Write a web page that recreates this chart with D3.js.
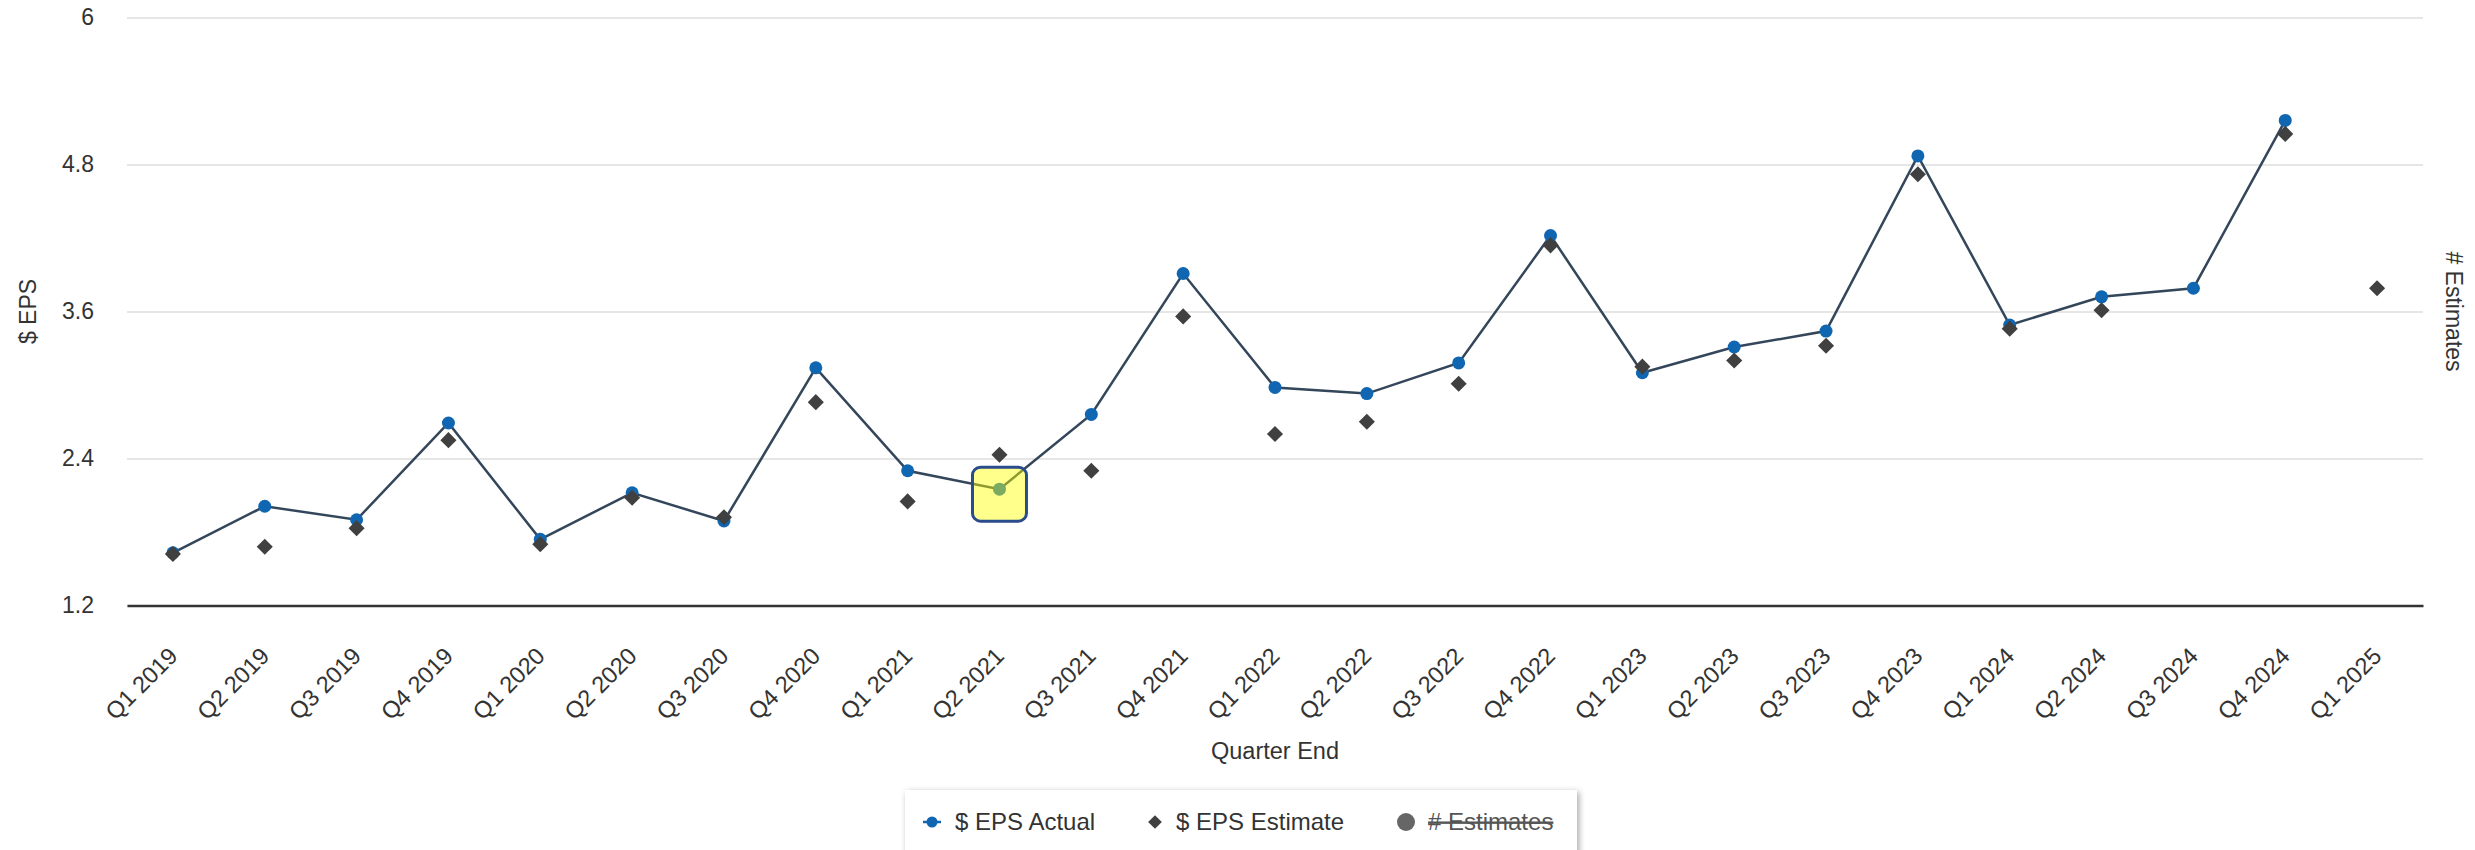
<!DOCTYPE html>
<html>
<head>
<meta charset="utf-8">
<script src="https://cdn.jsdelivr.net/npm/d3@7/dist/d3.min.js"></script>
<style>
  html, body { margin: 0; padding: 0; background: #fff; }
  svg { display: block; font-family: "Liberation Sans", Arial, sans-serif; }
</style>
</head>
<body>
<svg id="chart" width="2475" height="850"></svg>
<script>
// ---- data ----
const categories = ["Q1 2019","Q2 2019","Q3 2019","Q4 2019","Q1 2020","Q2 2020","Q3 2020","Q4 2020",
  "Q1 2021","Q2 2021","Q3 2021","Q4 2021","Q1 2022","Q2 2022","Q3 2022","Q4 2022",
  "Q1 2023","Q2 2023","Q3 2023","Q4 2023","Q1 2024","Q2 2024","Q3 2024","Q4 2024","Q1 2025"];
const epsActual = [1.63, 2.01, 1.90, 2.69, 1.74, 2.12, 1.89, 3.14,
  2.30, 2.15, 2.76, 3.91, 2.98, 2.93, 3.18, 4.22,
  3.10, 3.31, 3.44, 4.87, 3.49, 3.72, 3.79, 5.16, null];
const epsEstimate = [1.62, 1.68, 1.83, 2.55, 1.70, 2.08, 1.92, 2.86,
  2.05, 2.43, 2.30, 3.56, 2.60, 2.70, 3.01, 4.14,
  3.15, 3.20, 3.32, 4.72, 3.46, 3.61, null, 5.05, 3.79];
const yTicks = [1.2, 2.4, 3.6, 4.8, 6];
const highlightIndex = 9; // Q2 2021 hovered point
const legendItems = ["$ EPS Actual", "$ EPS Estimate", "# Estimates"];

// ---- layout ----
const svg = d3.select("#chart");
const pL = 127, pR = 2423, pT = 17.5, pB = 605.5;
const x = d3.scaleBand().domain(categories).range([pL, pR]).padding(0);
const cx = c => x(c) + x.bandwidth() / 2;
const y = d3.scaleLinear().domain([1.2, 6]).range([pB, pT]);

const defs = svg.append("defs");
const f = defs.append("filter").attr("id", "shadow").attr("x", "-10%").attr("y", "-30%").attr("width", "130%").attr("height", "180%");
f.append("feDropShadow").attr("dx", 2).attr("dy", 2).attr("stdDeviation", 3).attr("flood-color", "#000").attr("flood-opacity", 0.35);

// grid + y axis
const yAxis = d3.axisLeft(y).tickValues(yTicks).tickSize(-(pR - pL)).tickPadding(33)
  .tickFormat(d => d3.format("~g")(d));
const gy = svg.append("g").attr("transform", `translate(${pL},0)`).call(yAxis);
gy.select(".domain").remove();
gy.selectAll(".tick line").attr("stroke", "#e6e6e6").attr("stroke-width", 2);
gy.selectAll(".tick text").attr("fill", "#333").attr("font-size", 23)
  .attr("font-family", "Liberation Sans, Arial, sans-serif");

// x axis
const xAxis = d3.axisBottom(x).tickSize(0).tickPadding(0);
const gx = svg.append("g").attr("transform", `translate(0,${pB})`).call(xAxis);
gx.select(".domain").attr("stroke", "#333").attr("stroke-width", 2.5);
gx.selectAll(".tick text")
  .attr("fill", "#333").attr("font-size", 23.5)
  .attr("font-family", "Liberation Sans, Arial, sans-serif")
  .attr("text-anchor", "end").attr("dy", null).attr("y", 0)
  .attr("transform", "translate(6,52) rotate(-45)");

// axis titles
svg.append("text").attr("transform", `translate(36,${(pT + pB) / 2}) rotate(-90)`)
  .attr("text-anchor", "middle").attr("fill", "#333").attr("font-size", 23).text("$ EPS");
svg.append("text").attr("transform", `translate(2446,${(pT + pB) / 2}) rotate(90)`)
  .attr("text-anchor", "middle").attr("fill", "#333").attr("font-size", 23).text("# Estimates");
svg.append("text").attr("x", (pL + pR) / 2).attr("y", 759)
  .attr("text-anchor", "middle").attr("fill", "#333").attr("font-size", 23.5).text("Quarter End");

// actual line
const actualPts = categories.map((c, i) => ({ c, v: epsActual[i] }));
const line = d3.line().defined(d => d.v != null).x(d => cx(d.c)).y(d => y(d.v));
svg.append("path").datum(actualPts).attr("d", line)
  .attr("fill", "none").attr("stroke", "#34465a").attr("stroke-width", 2.5);

svg.append("g").selectAll("circle").data(actualPts.filter(d => d.v != null)).join("circle")
  .attr("cx", d => cx(d.c)).attr("cy", d => y(d.v)).attr("r", 6.5).attr("fill", "#1066b0");

// estimates (diamonds)
const estPts = categories.map((c, i) => ({ c, v: epsEstimate[i] })).filter(d => d.v != null);
const diamond = d3.symbol().type(d3.symbolDiamond2).size(165);
svg.append("g").selectAll("path").data(estPts).join("path")
  .attr("d", diamond)
  .attr("transform", d => `translate(${cx(d.c)},${y(d.v)})`)
  .attr("fill", "#404040");

// highlight box
const hc = categories[highlightIndex];
svg.append("rect")
  .attr("x", cx(hc) - 27).attr("y", y(epsActual[highlightIndex]) - 22)
  .attr("width", 54).attr("height", 54).attr("rx", 8)
  .attr("fill", "rgba(255,255,0,0.45)").attr("stroke", "#2b4c8c").attr("stroke-width", 3);

// legend
const lg = svg.append("g");
lg.append("rect").attr("x", 905).attr("y", 790).attr("width", 672).attr("height", 90)
  .attr("fill", "#fff").attr("filter", "url(#shadow)");
const ly = 822;
lg.append("line").attr("x1", 923).attr("x2", 941).attr("y1", ly).attr("y2", ly)
  .attr("stroke", "#1066b0").attr("stroke-width", 2.5);
lg.append("circle").attr("cx", 932).attr("cy", ly).attr("r", 5.5).attr("fill", "#1066b0");
lg.append("text").attr("x", 955).attr("y", ly + 8).attr("font-size", 24).attr("fill", "#333").text(legendItems[0]);
lg.append("path").attr("d", d3.symbol().type(d3.symbolDiamond2).size(120))
  .attr("transform", `translate(1155,${ly})`).attr("fill", "#404040");
lg.append("text").attr("x", 1176).attr("y", ly + 8).attr("font-size", 24).attr("fill", "#333").text(legendItems[1]);
lg.append("circle").attr("cx", 1406).attr("cy", ly).attr("r", 9).attr("fill", "#666");
lg.append("text").attr("x", 1428).attr("y", ly + 8).attr("font-size", 24).attr("fill", "#555")
  .attr("text-decoration", "line-through").text(legendItems[2]);
</script>
</body>
</html>
